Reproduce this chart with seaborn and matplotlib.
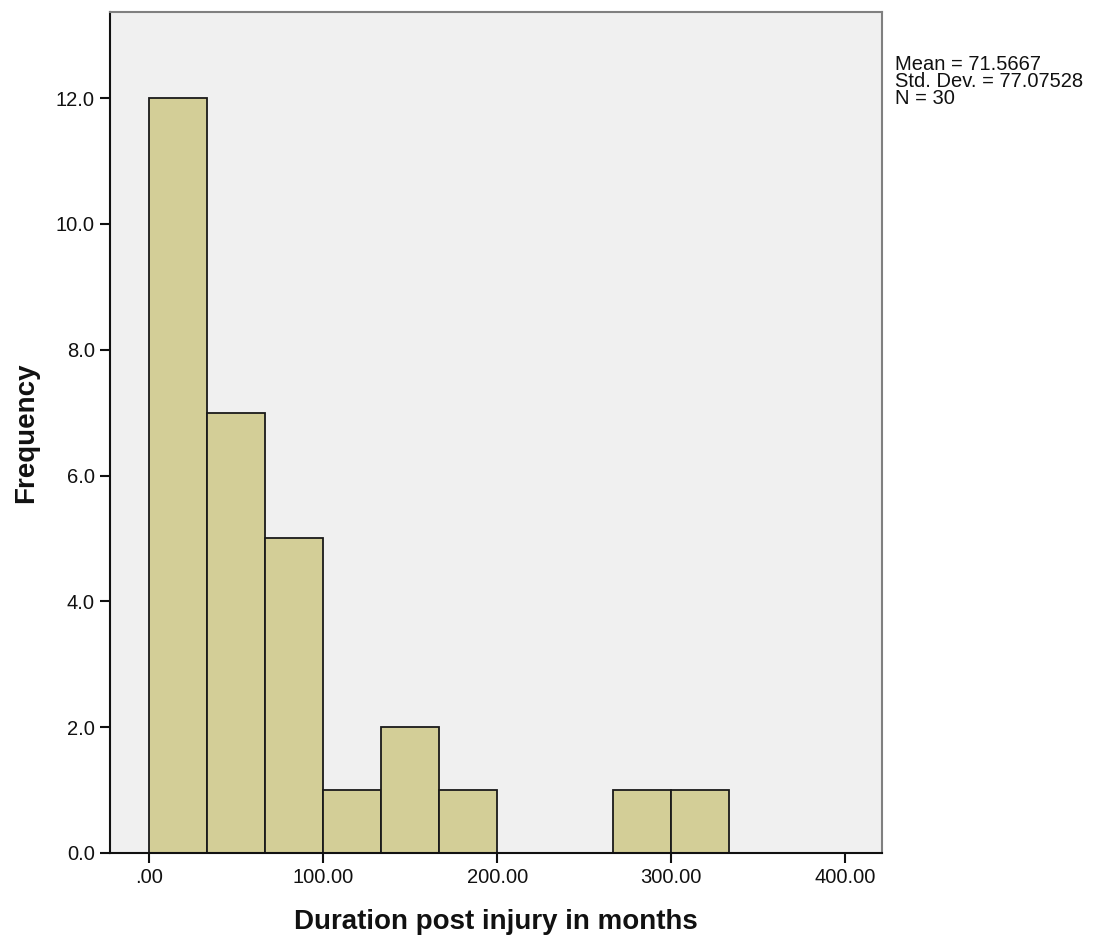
import numpy as np
import pandas as pd
import matplotlib
matplotlib.use("Agg")
import matplotlib.pyplot as plt
import seaborn as sns

# histogram counts (bin width 33.33 months)
bin_edges = [0, 33.333, 66.667, 100, 133.333, 166.667, 200, 233.333, 266.667, 300, 333.333]
counts = [12, 7, 5, 1, 2, 1, 0, 0, 1, 1]
x_ticks = [0, 100, 200, 300, 400]
x_tick_labels = [".00", "100.00", "200.00", "300.00", "400.00"]
y_ticks = [0, 2, 4, 6, 8, 10, 12]
y_tick_labels = ["0.0", "2.0", "4.0", "6.0", "8.0", "10.0", "12.0"]
stats_text = "Mean = 71.5667\nStd. Dev. = 77.07528\nN = 30"

mids = [(bin_edges[i] + bin_edges[i + 1]) / 2 for i in range(len(counts))]
df = pd.DataFrame({"duration": mids, "n": counts})

sns.set_style("white")
plt.rcParams["font.family"] = ["Liberation Sans", "DejaVu Sans"]
plt.rcParams["text.color"] = "#111111"
plt.rcParams["axes.labelcolor"] = "#111111"
plt.rcParams["xtick.color"] = "#111111"
plt.rcParams["ytick.color"] = "#111111"

fig = plt.figure(figsize=(10.96, 9.44), dpi=100)
ax = fig.add_axes([0.1004, 0.0964, 0.7043, 0.8909])
ax.set_facecolor("#F0F0F0")

sns.histplot(data=df, x="duration", weights="n", bins=bin_edges, ax=ax,
             color="#D3CE97", edgecolor="#1a1a1a", linewidth=1.3, alpha=1)

ax.set_xlim(-22.4, 421)
ax.set_ylim(0, 13.37)
ax.set_xticks(x_ticks)
ax.set_xticklabels(x_tick_labels)
ax.set_yticks(y_ticks)
ax.set_yticklabels(y_tick_labels)
ax.tick_params(axis="both", direction="out", length=7, width=1.5, labelsize=14.5,
               bottom=True, left=True, pad=4)

for side in ["left", "bottom"]:
    ax.spines[side].set_color("#111111")
    ax.spines[side].set_linewidth(1.5)
for side in ["top", "right"]:
    ax.spines[side].set_color("#808080")
    ax.spines[side].set_linewidth(1.5)

ax.set_xlabel("Duration post injury in months", fontsize=20, fontweight="bold", labelpad=16)
ax.set_ylabel("Frequency", fontsize=20, fontweight="bold", labelpad=12)

fig.text(0.8166, 0.942, stats_text, fontsize=14.5, va="top", ha="left", linespacing=0.88)

fig.savefig("out.png", dpi=100)
